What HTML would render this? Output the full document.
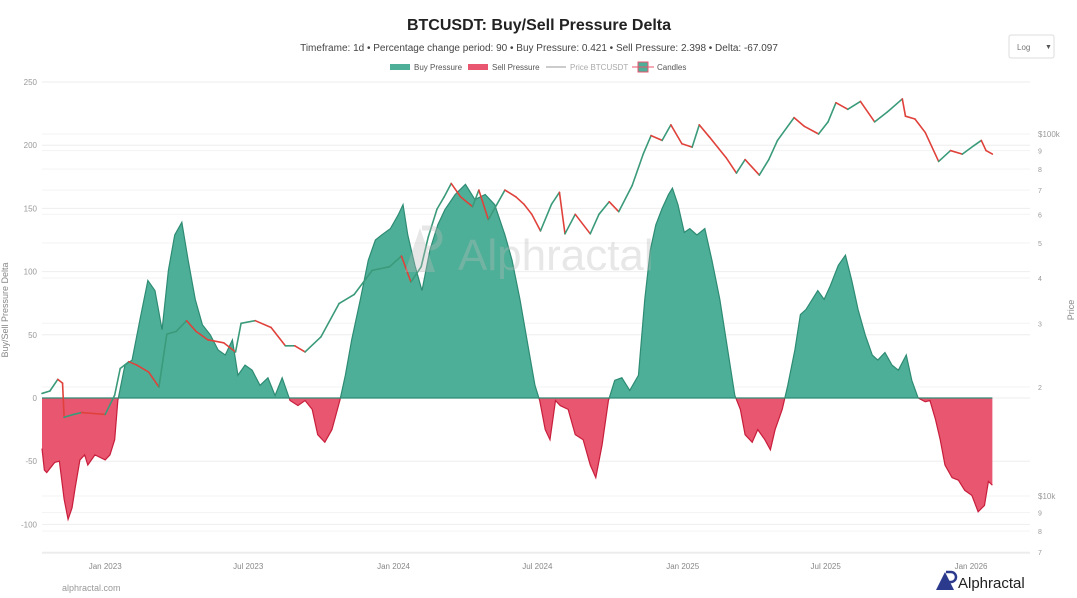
<!DOCTYPE html>
<html><head><meta charset="utf-8">
<style>
body{margin:0;background:#fff;font-family:"Liberation Sans",sans-serif;}
#wrap{position:relative;width:1077px;height:598px;overflow:hidden;}
</style></head>
<body>
<div id="wrap">
<svg id="chart" width="1077" height="598" xmlns="http://www.w3.org/2000/svg">
<text x="539" y="30" text-anchor="middle" font-size="16" font-weight="bold" fill="#222">BTCUSDT: Buy/Sell Pressure Delta</text>
<text x="539" y="51" text-anchor="middle" font-size="10" fill="#444">Timeframe: 1d  •  Percentage change period: 90  •  Buy Pressure: 0.421 • Sell Pressure: 2.398 • Delta: -67.097</text>
<g>
<rect x="1009" y="35" width="45" height="23" rx="2" fill="#fff" stroke="#ddd"/>
<text x="1017" y="50" font-size="8" fill="#777">Log</text><text x="1045" y="49" font-size="7" fill="#555">▼</text>
</g>
<g font-size="8" fill="#555">
<g><rect x="390" y="64" width="20" height="6" fill="#4daf97"/><text x="414" y="70">Buy Pressure</text></g>
<g><rect x="468" y="64" width="20" height="6" fill="#e8566f"/><text x="492" y="70">Sell Pressure</text></g>
<g><line x1="546" y1="67" x2="566" y2="67" stroke="#ccc" stroke-width="2"/><text x="570" y="70" fill="#aaa">Price BTCUSDT</text></g>
<g><rect x="638" y="62" width="10" height="10" fill="#4daf97" stroke="#e8566f"/><line x1="632" y1="67" x2="654" y2="67" stroke="#e8566f"/><text x="657" y="70">Candles</text></g>
</g>
<g id="grid"></g>
<g id="series"></g>
<g opacity="0.35">
<path d="M405 272 L420 228 L435 272 Z" fill="#bbb"/><path d="M422 228 h8 a10 10 0 0 1 0 20 h-6" fill="none" stroke="#bbb" stroke-width="5"/>
<text x="458" y="270" font-size="44" fill="#bbb">Alphractal</text>
</g>
<text transform="translate(8,310) rotate(-90)" text-anchor="middle" font-size="9" fill="#888">Buy/Sell Pressure Delta</text>
<text transform="translate(1074,310) rotate(-90)" text-anchor="middle" font-size="9" fill="#888">Price</text>
<text x="62" y="591" font-size="9" fill="#999">alphractal.com</text>
<g>
<path d="M936 590 L945 572 L954 590 Z" fill="#2b3a8c"/><path d="M946 572 h5 a5 5 0 0 1 0 10 h-3" fill="none" stroke="#2b3a8c" stroke-width="2.5"/>
<text x="958" y="588" font-size="15" fill="#222">Alphractal</text>
</g>
</svg>
</div>
<script>
const startDate = "2022-10-13";
const deltaDays = [0,3,6,16,22,28,33,38,42,48,54,58,67,80,86,92,96,105,114,124,134,143,152,160,168,177,185,194,203,213,223,232,241,248,257,266,276,286,295,304,314,324,333,342,349,358,367,377,384,392,403,413,422,430,441,451,457,463,472,481,491,501,510,523,536,548,561,573,586,595,605,615,624,630,637,643,650,656,666,675,685,694,701,709,717,725,734,744,755,763,770,777,785,793,798,805,813,820,829,839,848,858,868,877,884,890,899,906,915,922,928,937,944,953,960,967,975,982,990,998,1008,1017,1025,1033,1042,1051,1058,1067,1076,1084,1094,1101,1109,1118,1124,1131,1137,1143,1152,1160,1168,1177,1185,1193,1198,1203];
const deltaValues = [-40,-57,-59,-51,-50,-80,-96,-87,-71,-49,-45,-53,-45,-49,-45,-33,-2,26,30,62,93,85,54,101,129,139,109,78,58,50,38,34,46,18,26,22,10,16,2,16,-2,-6,-2,-9,-29,-35,-25,-2,18,46,78,109,125,129,134,145,153,129,105,85,117,137,149,161,169,157,161,153,129,109,78,42,10,-2,-25,-33,-2,-6,-9,-29,-33,-53,-63,-37,-2,14,16,6,18,78,117,137,150,161,166,153,131,134,129,134,109,78,38,2,-9,-29,-35,-25,-33,-41,-25,-9,10,38,66,70,78,85,78,89,105,113,93,70,50,34,30,36,26,22,34,14,0,-3,-2,-17,-33,-53,-63,-65,-73,-77,-90,-85,-66,-69];
const priceDays = [0,10,20,26,28,40,50,65,80,92,99,110,120,135,148,158,170,183,195,210,230,245,252,270,290,308,320,333,353,376,395,418,440,455,467,480,489,500,509,518,530,545,553,565,586,600,610,620,631,645,655,662,675,694,705,718,730,747,761,771,785,796,810,823,832,845,866,879,890,908,920,931,952,965,983,995,1005,1020,1036,1054,1070,1089,1093,1105,1118,1135,1150,1165,1180,1189,1195,1203];
const priceValues = [19200,19500,21000,20500,16500,16800,17000,16900,16800,19000,22500,23500,23000,22000,20000,28000,28500,30500,28500,27000,26500,25000,30000,30500,29200,26000,26000,25000,27500,34000,36000,42000,43000,46000,39000,43000,52000,62000,67000,73000,67000,63000,70000,58000,70000,67000,64000,60000,54000,64000,69000,53000,60000,53000,60000,65000,61000,72000,88000,99000,96000,106000,94000,92000,106000,98000,86000,78000,85000,77000,85000,96000,111000,105000,100000,108000,122000,117000,123000,108000,115000,125000,112000,110000,101000,84000,90000,88000,93000,96000,90000,88000];
const leftTicks = [250,200,150,100,50,0,-50,-100];
const priceTicks = [100000,90000,80000,70000,60000,50000,40000,30000,20000,10000,9000,8000,7000];
const priceTickLabels = ["$100k","9","8","7","6","5","4","3","2","$10k","9","8","7"];
const xTickDates = ["2023-01-01","2023-07-01","2024-01-01","2024-07-01","2025-01-01","2025-07-01","2026-01-01"];
const xTickLabels = ["Jan 2023","Jul 2023","Jan 2024","Jul 2024","Jan 2025","Jul 2025","Jan 2026"];

const NS="http://www.w3.org/2000/svg";
const X0=42, PXD=0.79, Y0=398, PXU=1.264;
const t0=Date.parse(startDate);
const xDay=d=>X0+d*PXD;
const xDate=s=>xDay((Date.parse(s)-t0)/864e5);
const yVal=v=>Y0-v*PXU;
const yPrice=p=>134+362*Math.log10(100000/p);
function mk(tag,attrs,parent){const e=document.createElementNS(NS,tag);for(const k in attrs)e.setAttribute(k,attrs[k]);parent.appendChild(e);return e;}
const grid=document.getElementById('grid'), ser=document.getElementById('series');
leftTicks.forEach(v=>{
  const l=mk('line',{x1:42,x2:1030,y1:yVal(v),y2:yVal(v),stroke:'#eee'},grid);
  
  
  const t=mk('text',{x:37,y:yVal(v)+3,'text-anchor':'end','font-size':8,fill:'#999'},grid);
  t.textContent=v;
  
  
});
priceTicks.forEach((p,i)=>{
  const l=mk('line',{x1:42,x2:1030,y1:yPrice(p),y2:yPrice(p),stroke:'#f3f3f3'},grid);
  
  
  const t=mk('text',{x:1038,y:yPrice(p)+3,'font-size':i==0||i==9?8:7,fill:'#999'},grid);
  t.textContent=priceTickLabels[i];
  
  
});
const ax=mk('line',{x1:42,x2:1030,y1:553,y2:553,stroke:'#e6e6e6'},grid);


xTickDates.forEach((d,i)=>{
  const t=mk('text',{x:xDate(d),y:569,'text-anchor':'middle','font-size':8,fill:'#888'},grid);
  t.textContent=xTickLabels[i];
  
  
});
const pts=deltaDays.map((d,i)=>[xDay(d),yVal(deltaValues[i])]);
const area=(clip,fill,name)=>{
  let d='M'+pts[0][0]+','+Y0+' '+pts.map(p=>'L'+p[0]+','+p[1]).join(' ')+' L'+pts[pts.length-1][0]+','+Y0+' Z';
  const c=mk('clipPath',{id:name+'-clip'},ser);
  mk('rect',clip,c);
  const p=mk('path',{d:d,fill:fill,'clip-path':'url(#'+name+'-clip)'},ser);
  
  
};
area({x:0,y:0,width:1077,height:Y0},'#4daf97','buy-pressure-area');
area({x:0,y:Y0,width:1077,height:300},'#e8566f','sell-pressure-area');
const lineD='M'+pts.map(p=>p[0]+','+p[1]).join(' L');
const ca=mk('clipPath',{id:'ca'},ser);mk('rect',{x:0,y:0,width:1077,height:Y0},ca);
const cb=mk('clipPath',{id:'cb'},ser);mk('rect',{x:0,y:Y0,width:1077,height:300},cb);
const l1=mk('path',{d:lineD,fill:'none',stroke:'#2e8b74','stroke-width':1.2,'clip-path':'url(#ca)'},ser);


const l2=mk('path',{d:lineD,fill:'none',stroke:'#c81e3c','stroke-width':1.2,'clip-path':'url(#cb)'},ser);


const zl=mk('line',{x1:42,x2:xDay(deltaDays[deltaDays.length-1]),y1:Y0,y2:Y0,stroke:'#2e8b74','stroke-width':1.2},ser);


for(let i=1;i<priceDays.length;i++){
  const up=priceValues[i]>=priceValues[i-1];
  const s=mk('line',{x1:xDay(priceDays[i-1]),y1:yPrice(priceValues[i-1]),x2:xDay(priceDays[i]),y2:yPrice(priceValues[i]),stroke:up?'#3a9a7a':'#e0413a','stroke-width':1.6,'stroke-linecap':'round'},ser);
  
  
}
</script>
</body></html>
